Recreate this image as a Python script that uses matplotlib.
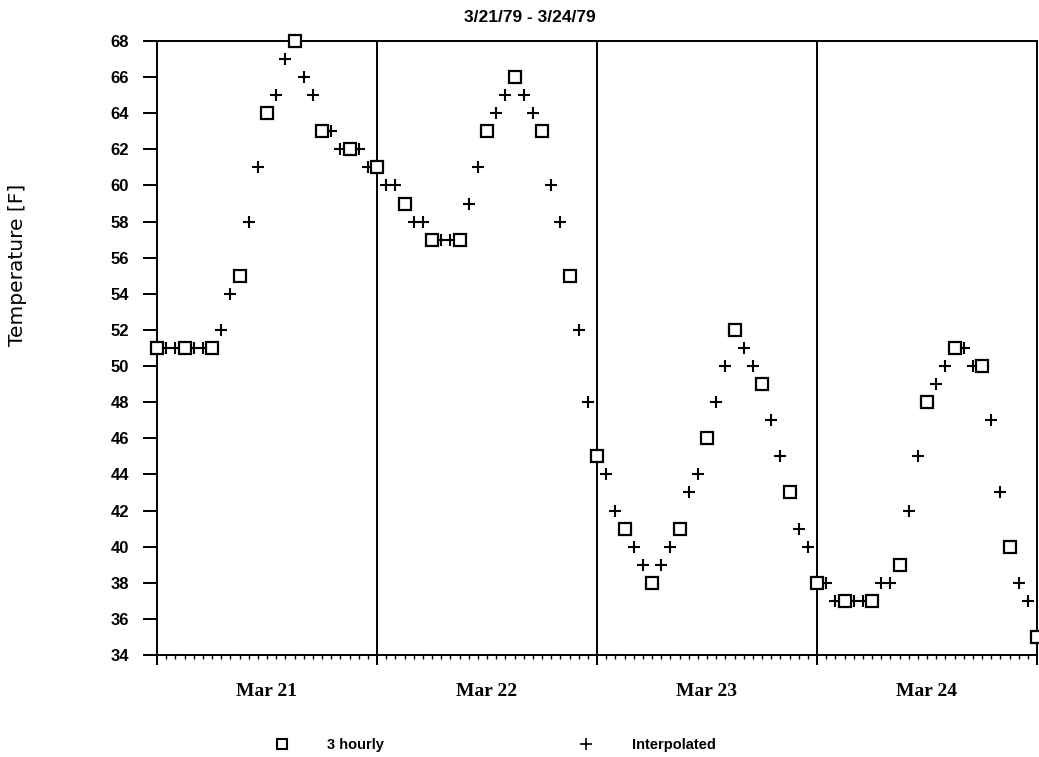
import matplotlib
matplotlib.use("Agg")
import matplotlib.pyplot as plt
from matplotlib.lines import Line2D

# ---- data ----
hours_3h = [0, 3, 6, 9, 12, 15, 18, 21, 24, 27, 30, 33, 36, 39, 42, 45, 48,
            51, 54, 57, 60, 63, 66, 69, 72, 75, 78, 81, 84, 87, 90, 93, 96]
temp_3h = [51, 51, 51, 55, 64, 68, 63, 62, 61, 59, 57, 57, 63, 66, 63, 55, 45,
           41, 38, 41, 46, 52, 49, 43, 38, 37, 37, 39, 48, 51, 50, 40, 35]

hours_interp = [1, 2, 4, 5, 7, 8, 10, 11, 13, 14, 16, 17, 19, 20, 22, 23,
                25, 26, 28, 29, 31, 32, 34, 35, 37, 38, 40, 41, 43, 44, 46, 47,
                49, 50, 52, 53, 55, 56, 58, 59, 61, 62, 64, 65, 67, 68, 70, 71,
                73, 74, 76, 77, 79, 80, 82, 83, 85, 86, 88, 89, 91, 92, 94, 95]
temp_interp = [51, 51, 51, 51, 52, 54, 58, 61, 65, 67, 66, 65, 63, 62, 62, 61,
               60, 60, 58, 58, 57, 57, 59, 61, 64, 65, 65, 64, 60, 58, 52, 48,
               44, 42, 40, 39, 39, 40, 43, 44, 48, 50, 51, 50, 47, 45, 41, 40,
               38, 37, 37, 37, 38, 38, 42, 45, 49, 50, 51, 50, 47, 43, 38, 37]

day_bounds = [0, 24, 48, 72, 96]
day_centers = [12, 36, 60, 84]
day_labels = ["Mar 21", "Mar 22", "Mar 23", "Mar 24"]
y_ticks = list(range(34, 69, 2))
title = "3/21/79 - 3/24/79"

# ---- figure ----
fig = plt.figure(figsize=(10.39, 7.57), dpi=100)
ax = fig.add_axes([157/1039, 1-655/757, (1037-157)/1039, (655-41)/757])

lw = 1.4
for s in ax.spines.values():
    s.set_linewidth(lw)
    s.set_color("black")

for xb in day_bounds[1:-1]:
    ax.axvline(xb, color="black", lw=lw, zorder=1)

ax.plot(hours_interp, temp_interp, linestyle="none", marker="+", ms=9, mew=1.5,
        color="black", clip_on=False, zorder=3, label="Interpolated")
ax.plot(hours_3h, temp_3h, linestyle="none", marker="s", ms=8.5, mew=1.6,
        mfc="white", mec="black", clip_on=False, zorder=4, label="3 hourly")

ax.set_xlim(0, 96)
ax.set_ylim(34, 68)

ax.set_yticks(y_ticks)
ax.set_yticklabels([str(v) for v in y_ticks], fontfamily="Liberation Sans",
                   fontweight="bold", fontsize=12)
ax.tick_params(axis="y", direction="out", length=10, width=lw, pad=10)

ax.set_xticks(day_bounds)
ax.set_xticklabels([])
ax.set_xticks(range(0, 97), minor=True)
ax.tick_params(axis="x", which="major", direction="out", length=7, width=lw)
ax.tick_params(axis="x", which="minor", direction="out", length=3, width=1.0)

sec = ax.secondary_xaxis("bottom")
sec.set_xticks(day_centers)
sec.set_xticklabels(day_labels, fontfamily="Liberation Serif",
                    fontweight="bold", fontsize=14)
sec.tick_params(length=0, pad=20)
for s in sec.spines.values():
    s.set_visible(False)

fig.text(530/1039, 1-17/757, title, ha="center", va="center",
         fontfamily="Liberation Sans", fontweight="bold", fontsize=12.5)

fig.text(18/1039, 1-265/757, "Temperature [F]", rotation=90, ha="center",
         va="center", fontfamily="DejaVu Sans", fontsize=14.5)

handles = [
    Line2D([], [], linestyle="none", marker="s", ms=7, mew=1.5, mfc="white",
           mec="black"),
    Line2D([], [], linestyle="none", marker="+", ms=8, mew=1.2, color="black"),
]
leg = fig.legend(handles, ["3 hourly", "Interpolated"], ncol=2,
                 loc="center", bbox_to_anchor=(495/1039, 1-745/757),
                 frameon=False, handlelength=1.0, handletextpad=2.6,
                 columnspacing=13.4, borderpad=0,
                 prop={"family": "Liberation Sans", "weight": "bold",
                       "size": 10.5})

fig.savefig("out.png", dpi=100, facecolor="white")
